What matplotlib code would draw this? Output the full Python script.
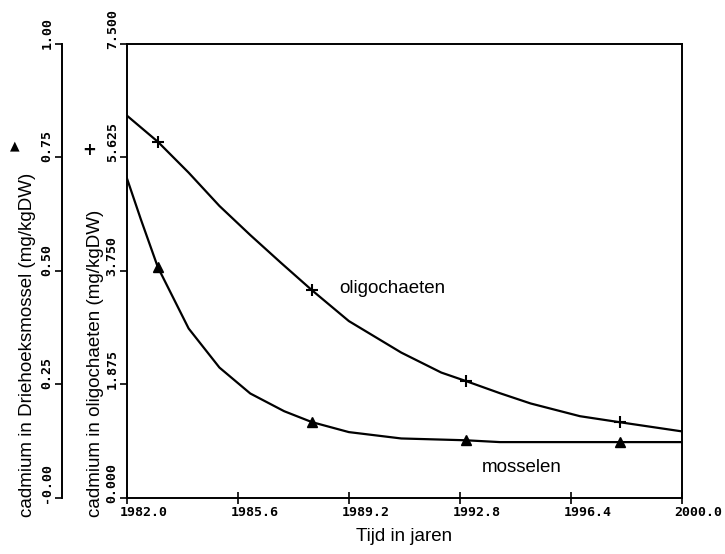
import numpy as np
import matplotlib
matplotlib.use('Agg')
import matplotlib.pyplot as plt
import matplotlib.transforms as mtransforms

matplotlib.rc('font', family='Liberation Sans', size=13)
matplotlib.rc('lines', linewidth=1.6)

# curve through the oligochaeten values (mg/kgDW)
oli_years = [1982.0, 1983.0, 1984.0, 1985.0, 1986.0, 1987.0, 1988.0, 1989.2,
             1990.9, 1992.2, 1993.0, 1994.1, 1995.1, 1996.7, 1998.0, 2000.0]
oli_values = [6.31, 5.88, 5.37, 4.82, 4.34, 3.88, 3.43, 2.92,
              2.40, 2.07, 1.93, 1.73, 1.56, 1.35, 1.25, 1.10]

# curve through the mussel values (mg/kgDW)
mos_years = [1982.0, 1982.45, 1983.0, 1984.0, 1985.0, 1986.0, 1987.1, 1988.0,
             1989.2, 1990.9, 1993.0, 1994.1, 1998.0, 2000.0]
mos_values = [0.703, 0.613, 0.508, 0.373, 0.287, 0.230, 0.191, 0.167,
              0.145, 0.131, 0.127, 0.123, 0.123, 0.123]

# measured points (markers)
mark_years = [1983.0, 1988.0, 1993.0, 1998.0]
oli_marks = [5.88, 3.43, 1.93, 1.25]
mos_marks = [0.508, 0.167, 0.127, 0.123]

x_ticks = [1982.0, 1985.6, 1989.2, 1992.8, 1996.4, 2000.0]
oli_ticks = [0.0, 1.875, 3.75, 5.625, 7.5]
oli_tick_labels = ['0.000', '1.875', '3.750', '5.625', '7.500']
mos_ticks = [0.0, 0.25, 0.5, 0.75, 1.0]
mos_tick_labels = ['-0.00', '0.25', '0.50', '0.75', '1.00']

mono = 'DejaVu Sans Mono'

fig = plt.figure(figsize=(7.25, 5.54), dpi=100)
ax = fig.add_axes([0.1752, 0.1011, 0.765, 0.8202])

ax.plot(oli_years, oli_values, color='k', lw=1.6)
ax.plot(mark_years, oli_marks, ls='none', marker='+', ms=9, mew=1.5, color='k')
ax.set_xlim(1982, 2000)
ax.set_ylim(0, 7.5)
ax.set_xticks(x_ticks)
ax.set_xticklabels(['%.1f' % t for t in x_ticks], family=mono, fontsize=9.5,
                   weight='bold', ha='left')
ax.set_yticks(oli_ticks)
ax.set_yticklabels(oli_tick_labels, family=mono, fontsize=9.5, weight='bold',
                   rotation=90, va='bottom')
ax.tick_params(axis='x', direction='inout', length=8, width=1.2, pad=2)
ax.tick_params(axis='y', direction='out', length=5, width=1.2, pad=1)
for s in ax.spines.values():
    s.set_linewidth(1.4)
ax.set_xlabel('Tijd in jaren', fontsize=13.5, labelpad=6)

ax2 = ax.twinx()
ax2.plot(mos_years, mos_values, color='k', lw=1.6)
ax2.plot(mark_years, mos_marks, ls='none', marker='^', ms=7, color='k')
ax2.set_ylim(0, 1)
ax2.spines['left'].set_position(('outward', 47))
ax2.spines['left'].set_visible(True)
ax2.spines['left'].set_linewidth(1.4)
ax2.spines['right'].set_visible(False)
ax2.spines['top'].set_visible(False)
ax2.spines['bottom'].set_visible(False)
ax2.yaxis.set_ticks_position('left')
ax2.set_yticks(mos_ticks)
ax2.set_yticklabels(mos_tick_labels, family=mono, fontsize=9.5, weight='bold',
                    rotation=90, va='bottom')
ax2.tick_params(axis='y', direction='out', length=5, width=1.2, pad=1)

# tick labels start a few pixels before their tick, as in the old plotter
dx = mtransforms.ScaledTranslation(-0.07, 0, fig.dpi_scale_trans)
dy = mtransforms.ScaledTranslation(0, -0.05, fig.dpi_scale_trans)
for lab in ax.get_xticklabels():
    lab.set_transform(lab.get_transform() + dx)
for lab in ax.get_yticklabels() + ax2.get_yticklabels():
    lab.set_transform(lab.get_transform() + dy)

ax.text(1988.9, 3.45, 'oligochaeten', fontsize=13.5, va='center')
ax2.text(1993.5, 0.068, 'mosselen', fontsize=13.5, va='center')

# axis titles with their symbols
fig.text(28 / 725, 1 - 345 / 554, 'cadmium in Driehoeksmossel (mg/kgDW)',
         rotation=90, ha='center', va='center', fontsize=13.5)
fig.text(96 / 725, 1 - 363 / 554, 'cadmium in oligochaeten (mg/kgDW)',
         rotation=90, ha='center', va='center', fontsize=13.5)
fig.text(15 / 725, 1 - 146 / 554, '\u25b2', ha='center', va='center', fontsize=9,
         family='DejaVu Sans')
fig.text(89 / 725, 1 - 150 / 554, '+', ha='center', va='center', fontsize=12,
         family='DejaVu Sans', weight='bold')

fig.savefig('out.png', dpi=100)
